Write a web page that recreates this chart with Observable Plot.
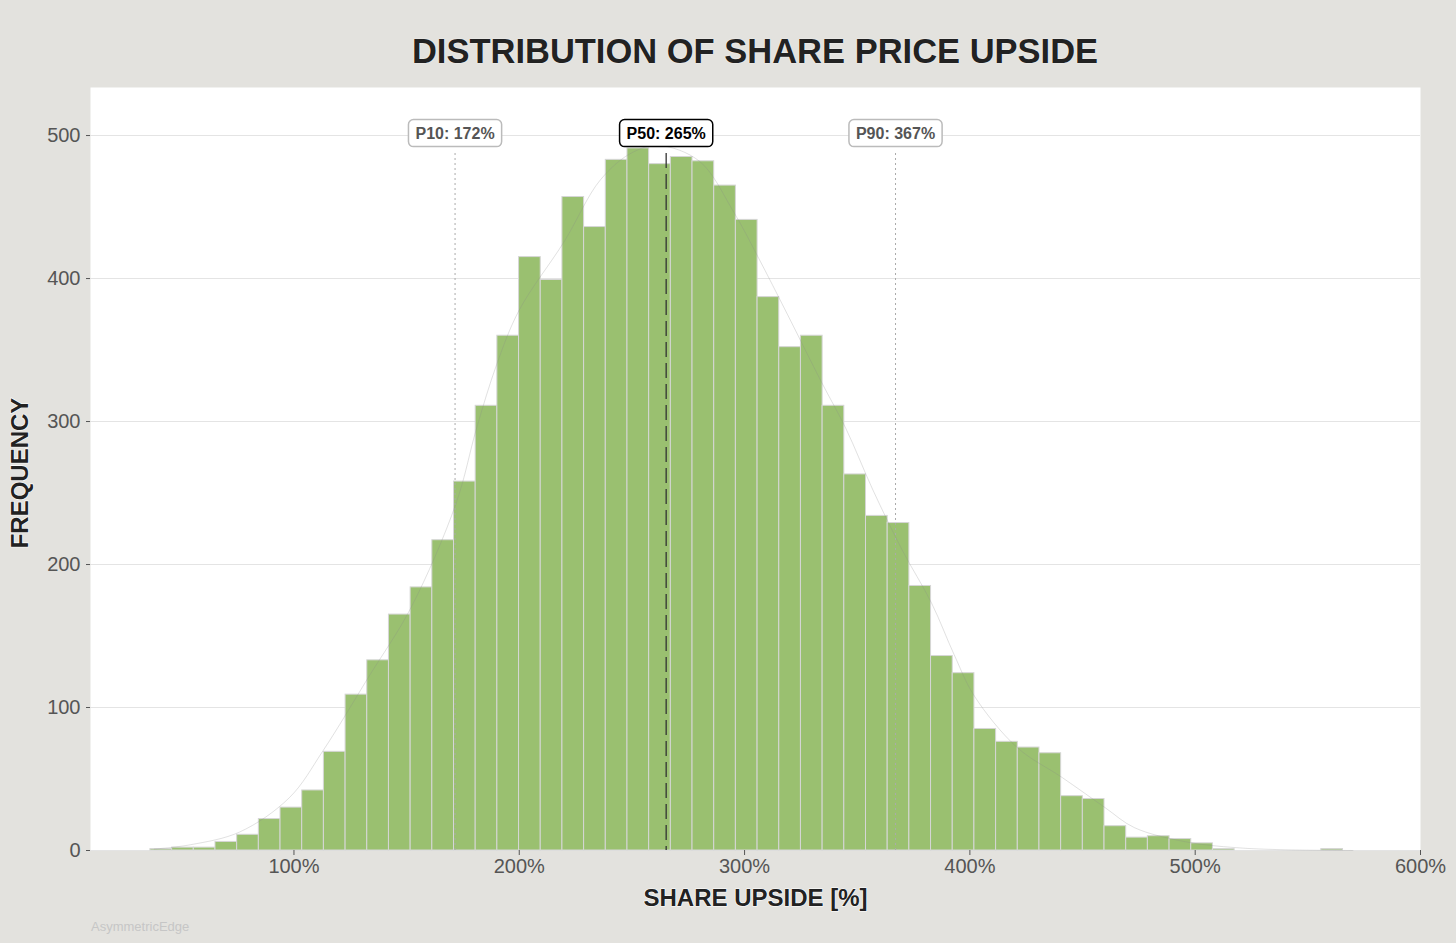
<!DOCTYPE html>
<html>
<head>
<meta charset="utf-8">
<script src="https://cdn.jsdelivr.net/npm/d3@7"></script>
<script src="https://cdn.jsdelivr.net/npm/@observablehq/plot@0.6"></script>
<style>
  html, body { margin: 0; padding: 0; background: #e3e2de; }
  body { width: 1456px; height: 943px; position: relative; overflow: hidden; font-family: "Liberation Sans", Arial, sans-serif; }
  #title { position: absolute; top: 34px; left: 0; width: 1510px; text-align: center; font-size: 34.5px; line-height: 35px; font-weight: bold; color: #222; text-shadow: 0 0 1.5px #fff; }
  #chart { position: absolute; top: 80px; left: 0; }
  #watermark { position: absolute; top: 920px; left: 91px; font-size: 13px; line-height: 13px; color: #c6c6c6; }
</style>
</head>
<body>
<div id="title">DISTRIBUTION OF SHARE PRICE UPSIDE</div>
<div id="chart"></div>
<div id="watermark">AsymmetricEdge</div>
<script>
// ---- data ----
const binStart = 36.3;      // lower edge of first bin (%)
const binWidth = 9.624;     // bin width (%)
const counts = [1, 2, 2, 6, 11, 22, 30, 42, 69, 109, 133, 165, 184, 217, 258, 311, 360, 415, 399, 457,
  436, 483, 491, 480, 485, 482, 465, 441, 387, 352, 360, 311, 263, 234, 229, 185, 136, 124, 85, 76,
  72, 68, 38, 36, 17, 9, 10, 8, 5, 1, 0, 0, 0, 0, 1];
const curveX = [38, 54, 76, 98, 113, 133, 152, 172, 181, 190, 200, 220, 236, 250, 262, 280, 295, 306, 319, 334, 345, 357, 370, 383, 393, 402, 421, 441, 460, 473, 496, 518, 540, 570];
const curveY = [1, 4, 13, 37, 70, 121, 170, 243, 295, 340, 378, 426, 469, 488, 493, 482, 447, 415, 375, 328, 295, 252, 210, 173, 137, 108, 72, 51, 30, 16, 6, 2, 0.5, 0];
const pctNames = ["P10", "P50", "P90"];
const pctValues = [171.5, 265.2, 367.0];
const xTicks = [100, 200, 300, 400, 500, 600];
const yTicks = [0, 100, 200, 300, 400, 500];

// ---- tables ----
const bins = counts.map((c, i) => ({x1: binStart + i * binWidth, x2: binStart + (i + 1) * binWidth, count: c})).filter(d => d.count > 0);
const curve = curveX.map((x, i) => ({x, y: curveY[i]}));
const pcts = pctNames.map((n, i) => ({name: n, value: pctValues[i], main: n === "P50"}));
const sidePcts = pcts.filter(d => !d.main);
const midPcts = pcts.filter(d => d.main);
const pctText = d => `${d.name}: ${Math.round(d.value)}%`;

const font = "'Liberation Sans', Arial, sans-serif";

const chart = Plot.plot({
  width: 1456,
  height: 863,
  marginTop: 7,
  marginLeft: 90,
  marginRight: 36,
  marginBottom: 93,
  style: {background: "transparent", fontFamily: font, overflow: "visible"},
  x: {domain: [9.7, 600]},
  y: {domain: [0, 533.6]},
  marks: [
    Plot.frame({fill: "white", stroke: "none"}),
    Plot.gridY(yTicks, {stroke: "#e4e4e4", strokeOpacity: 1, strokeWidth: 1}),
    Plot.rectY(bins, {x1: "x1", x2: "x2", y: "count", fill: "#9ac070", stroke: "#d6d6d6", strokeWidth: 1}),
    Plot.line(curve, {x: "x", y: "y", stroke: "#888", strokeOpacity: 0.25, strokeWidth: 1, curve: "catmull-rom"}),
    Plot.ruleX(sidePcts, {x: "value", insetTop: 66, stroke: "#aaa", strokeWidth: 1, strokeDasharray: "2,3"}),
    Plot.ruleX(midPcts, {x: "value", insetTop: 66, stroke: "#333", strokeWidth: 1.3, strokeDasharray: "15,6"}),
    Plot.text(sidePcts, {x: "value", frameAnchor: "top", lineAnchor: "middle", dy: 46, text: pctText, fontSize: 16, fontWeight: "bold", fill: "#555", ariaDescription: "pct-side"}),
    Plot.text(midPcts, {x: "value", frameAnchor: "top", lineAnchor: "middle", dy: 46, text: pctText, fontSize: 16, fontWeight: "bold", fill: "#000", ariaDescription: "pct-mid"}),
    Plot.axisX({ticks: xTicks, tickFormat: d => d + "%", tickSize: 5, tickPadding: 3, fontSize: 20, color: "#555", label: null}),
    Plot.axisY({ticks: yTicks, tickSize: 4, tickPadding: 6, fontSize: 20, color: "#555", label: null}),
    Plot.text(["SHARE UPSIDE [%]"], {frameAnchor: "bottom", lineAnchor: "middle", dy: 48, text: d => d, fontSize: 24, fontWeight: "bold", fill: "#222", stroke: "#fff", strokeWidth: 1.2, paintOrder: "stroke"}),
    Plot.text(["FREQUENCY"], {frameAnchor: "left", textAnchor: "middle", lineAnchor: "middle", dx: -70, dy: 4, rotate: -90, text: d => d, fontSize: 24, fontWeight: "bold", fill: "#222", stroke: "#fff", strokeWidth: 1.2, paintOrder: "stroke"})
  ]
});

document.getElementById("chart").appendChild(chart);

// rounded boxes behind percentile labels, sized from the rendered text
function boxify(desc, strokeColor) {
  const g = chart.querySelector(`g[aria-description="${desc}"]`);
  if (!g) return;
  g.querySelectorAll("text").forEach(t => {
    const b = t.getBBox();
    const padX = 7, padY = 6;
    const r = document.createElementNS("http://www.w3.org/2000/svg", "rect");
    r.setAttribute("x", b.x - padX);
    r.setAttribute("y", b.y - padY + 1);
    r.setAttribute("width", b.width + 2 * padX);
    r.setAttribute("height", b.height + 2 * padY - 2);
    r.setAttribute("rx", 5);
    r.setAttribute("ry", 5);
    r.setAttribute("fill", "white");
    r.setAttribute("stroke", strokeColor);
    r.setAttribute("stroke-width", 1.5);
    const tr = t.getAttribute("transform");
    if (tr) r.setAttribute("transform", tr);
    t.parentNode.insertBefore(r, t);
  });
}
boxify("pct-side", "#bbb");
boxify("pct-mid", "#000");
</script>
</body>
</html>
